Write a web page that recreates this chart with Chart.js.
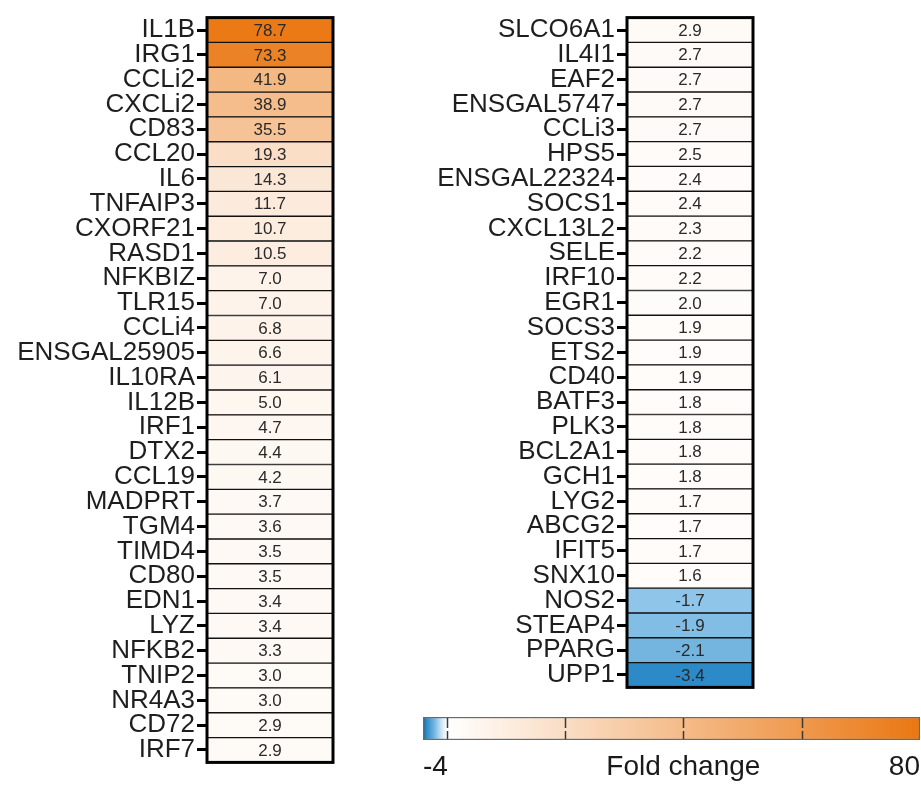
<!DOCTYPE html>
<html>
<head>
<meta charset="utf-8">
<script src="https://cdn.jsdelivr.net/npm/chart.js@4"></script>
<style>
  html, body { margin: 0; padding: 0; background: #ffffff; }
  body { width: 921px; height: 788px; position: relative; overflow: hidden; }
  .box { position: absolute; }
  #leftBox  { left: 0px;   top: 0px;   width: 340px; height: 780px; }
  #rightBox { left: 420px; top: 0px;   width: 340px; height: 705px; }
  #barBox   { left: 410px; top: 705px; width: 511px; height: 83px; }
</style>
</head>
<body>
<div class="box" id="leftBox"><canvas id="leftChart"></canvas></div>
<div class="box" id="rightBox"><canvas id="rightChart"></canvas></div>
<div class="box" id="barBox"><canvas id="scaleChart"></canvas></div>
<script>
// Genes and fold changes, first column
const leftGenes = ['IL1B','IRG1','CCLi2','CXCLi2','CD83','CCL20','IL6','TNFAIP3','CXORF21','RASD1',
  'NFKBIZ','TLR15','CCLi4','ENSGAL25905','IL10RA','IL12B','IRF1','DTX2','CCL19','MADPRT',
  'TGM4','TIMD4','CD80','EDN1','LYZ','NFKB2','TNIP2','NR4A3','CD72','IRF7'];
const leftFold = [78.7,73.3,41.9,38.9,35.5,19.3,14.3,11.7,10.7,10.5,
  7.0,7.0,6.8,6.6,6.1,5.0,4.7,4.4,4.2,3.7,
  3.6,3.5,3.5,3.4,3.4,3.3,3.0,3.0,2.9,2.9];

// Genes and fold changes, second column
const rightGenes = ['SLCO6A1','IL4I1','EAF2','ENSGAL5747','CCLi3','HPS5','ENSGAL22324','SOCS1','CXCL13L2','SELE',
  'IRF10','EGR1','SOCS3','ETS2','CD40','BATF3','PLK3','BCL2A1','GCH1','LYG2',
  'ABCG2','IFIT5','SNX10','NOS2','STEAP4','PPARG','UPP1'];
const rightFold = [2.9,2.7,2.7,2.7,2.7,2.5,2.4,2.4,2.3,2.2,
  2.2,2.0,1.9,1.9,1.9,1.8,1.8,1.8,1.8,1.7,
  1.7,1.7,1.6,-1.7,-1.9,-2.1,-3.4];

// Colour scale range and ticks
const scaleMin = -4;
const scaleMax = 80;
const scaleTicks = [-4, 0, 20, 40, 60, 80];
const scaleTitle = 'Fold change';

// Colour ramp: blue for down-regulation, white at zero, orange for up-regulation
const rampStops = [
  [-4,   [30, 96, 136]],
  [-3.4, [44, 138, 200]],
  [-2.1, [116, 181, 224]],
  [-1.7, [142, 197, 233]],
  [-1,   [196, 225, 243]],
  [0,    [255, 255, 255]],
  [80,   [234, 119, 18]]
];

function rampColor(v) {
  if (v <= rampStops[0][0]) return rgb(rampStops[0][1]);
  for (let i = 1; i < rampStops.length; i++) {
    const [v1, c1] = rampStops[i];
    const [v0, c0] = rampStops[i - 1];
    if (v <= v1) {
      const t = (v - v0) / (v1 - v0);
      return rgb(c0.map((c, k) => c + (c1[k] - c) * t));
    }
  }
  return rgb(rampStops[rampStops.length - 1][1]);
}
function rgb(c) { return 'rgb(' + c.map(x => Math.round(x)).join(',') + ')'; }

const FONT = "'Liberation Sans', Arial, Helvetica, sans-serif";

// Writes each cell's fold change in the middle of its bar
const cellText = {
  id: 'cellText',
  afterDatasetsDraw(chart) {
    const ctx = chart.ctx;
    const meta = chart.getDatasetMeta(0);
    const vals = chart.data.datasets[0].fold;
    ctx.save();
    ctx.font = '17px ' + FONT;
    ctx.fillStyle = '#2a2a2a';
    ctx.textAlign = 'center';
    ctx.textBaseline = 'middle';
    meta.data.forEach((el, i) => {
      const cx = (el.x + el.base) / 2;
      ctx.fillText(vals[i].toFixed(1), cx, el.y + 1);
    });
    ctx.restore();
  }
};

// Heavy frame around the heat map column
const frame = {
  id: 'frame',
  afterDatasetsDraw(chart) {
    const a = chart.chartArea;
    const ctx = chart.ctx;
    ctx.save();
    ctx.strokeStyle = '#000';
    ctx.lineWidth = 3;
    ctx.strokeRect(a.left, a.top, a.right - a.left, a.bottom - a.top);
    ctx.restore();
  }
};

// Dashed marks across the colour key at the inner tick values
const keyDashes = {
  id: 'keyDashes',
  afterDatasetsDraw(chart) {
    const xs = chart.scales.x;
    const a = chart.chartArea;
    const ctx = chart.ctx;
    ctx.save();
    ctx.strokeStyle = '#3a3a3a';
    ctx.lineWidth = 1.5;
    ctx.setLineDash([10, 3]);
    scaleTicks.forEach(v => {
      if (v === scaleMin || v === scaleMax) return;
      const x = Math.round(xs.getPixelForValue(v)) + 0.5;
      ctx.beginPath();
      ctx.moveTo(x, a.top + 1);
      ctx.lineTo(x, a.bottom - 1);
      ctx.stroke();
    });
    ctx.restore();
  }
};

function heatColumn(canvasId, genes, fold, pad) {
  return new Chart(document.getElementById(canvasId), {
    type: 'bar',
    data: {
      labels: genes,
      datasets: [{
        data: genes.map(() => [0, 1]),
        fold: fold,
        backgroundColor: fold.map(rampColor),
        borderColor: '#111',
        borderWidth: 1,
        borderSkipped: false,
        barPercentage: 1,
        categoryPercentage: 1
      }]
    },
    options: {
      indexAxis: 'y',
      responsive: true,
      maintainAspectRatio: false,
      animation: false,
      events: [],
      layout: { padding: pad },
      plugins: { legend: { display: false }, tooltip: { enabled: false } },
      scales: {
        x: { display: false, min: 0, max: 1 },
        y: {
          afterFit(scale) { scale.width = 207; },
          border: { display: false },
          grid: {
            offset: false,
            drawOnChartArea: false,
            drawTicks: true,
            tickLength: 10,
            tickWidth: 3,
            tickColor: '#000'
          },
          ticks: {
            autoSkip: false,
            padding: 2,
            color: '#1e1e1e',
            font: { family: FONT, size: 26 }
          }
        }
      }
    },
    plugins: [cellText, frame]
  });
}

heatColumn('leftChart', leftGenes, leftFold, { top: 13, bottom: 15, left: 0, right: 7 });
heatColumn('rightChart', rightGenes, rightFold, { top: 13, bottom: 15, left: 0, right: 7 });

// Colour key
new Chart(document.getElementById('scaleChart'), {
  type: 'bar',
  data: {
    labels: [scaleTitle],
    datasets: [{
      data: [[scaleMin, scaleMax]],
      backgroundColor(c) {
        const chart = c.chart;
        if (!chart.chartArea) return '#fff';
        const xs = chart.scales.x;
        const x0 = xs.getPixelForValue(scaleMin);
        const x1 = xs.getPixelForValue(scaleMax);
        const g = chart.ctx.createLinearGradient(x0, 0, x1, 0);
        rampStops.forEach(([v, col]) => {
          g.addColorStop((v - scaleMin) / (scaleMax - scaleMin), rgb(col));
        });
        return g;
      },
      borderColor: '#6a6a6a',
      borderWidth: 1.5,
      borderSkipped: false,
      barPercentage: 1,
      categoryPercentage: 1
    }]
  },
  options: {
    indexAxis: 'y',
    responsive: true,
    maintainAspectRatio: false,
    animation: false,
    events: [],
    layout: { padding: { top: 12, left: 13, right: 1, bottom: 0 } },
    plugins: { legend: { display: false }, tooltip: { enabled: false } },
    scales: {
      y: { display: false },
      x: {
        type: 'linear',
        min: scaleMin,
        max: scaleMax,
        afterFit(scale) {
          scale.height = 48;
          scale.paddingLeft = 0;
          scale.paddingRight = 0;
        },
        afterBuildTicks(scale) { scale.ticks = scaleTicks.map(v => ({ value: v })); },
        border: { display: false },
        grid: { display: false },
        ticks: {
          align: 'inner',
          padding: 2,
          maxRotation: 0,
          autoSkip: false,
          color: '#1a1a1a',
          font: { family: FONT, size: 28 },
          callback(v) {
            if (v === scaleMin || v === scaleMax) return String(v);
            if (v === 40) return scaleTitle;
            return '';
          }
        }
      }
    }
  },
  plugins: [keyDashes]
});
</script>
</body>
</html>
